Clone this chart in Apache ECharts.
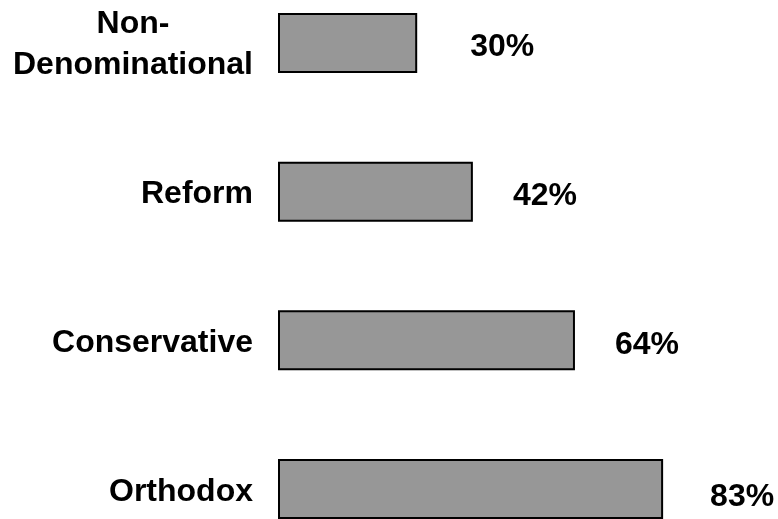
<!DOCTYPE html>
<html>
<head>
<meta charset="utf-8">
<script src="https://cdn.jsdelivr.net/npm/echarts@6/dist/echarts.min.js"></script>
<style>
  html, body { margin: 0; padding: 0; background: #ffffff; }
  #chart { width: 778px; height: 519px; }
</style>
</head>
<body>
<div id="chart"></div>
<script>
// Data
var categories = ['Non-Denominational', 'Reform', 'Conservative', 'Orthodox'];
var values = [30, 42, 64, 83];

// Label nudges (layout only)
var labelShift = [[13, 4], [0, 5], [0, 5], [7, 8]];

var chart = echarts.init(document.getElementById('chart'), null, { renderer: 'canvas' });

var font = '"Liberation Sans", Arial, Helvetica, sans-serif';

var option = {
  backgroundColor: '#ffffff',
  animation: false,
  grid: { left: 278, top: 43, width: 464, height: 446, containLabel: false },
  xAxis: {
    type: 'value', min: 0, max: 100,
    show: false
  },
  yAxis: {
    type: 'category',
    data: categories,
    inverse: true,
    boundaryGap: false,
    axisLine: { show: false },
    axisTick: { show: false },
    splitLine: { show: false },
    axisLabel: {
      margin: 25,
      color: '#000000',
      fontFamily: font,
      fontWeight: 'bold',
      fontSize: 32,
      formatter: function (v) {
        if (v === 'Non-Denominational') {
          return '{c|Non-}\n{c|Denominational}';
        }
        return '{s|' + v + '}';
      },
      rich: {
        c: {
          width: 240, align: 'center', lineHeight: 41,
          fontFamily: font, fontWeight: 'bold', fontSize: 32, color: '#000000',
          padding: [3, 0, 0, 0]
        },
        s: {
          fontFamily: font, fontWeight: 'bold', fontSize: 32, color: '#000000',
          padding: [6, 0, 0, 0]
        }
      }
    }
  },
  series: [{
    type: 'bar',
    barWidth: 60,
    data: values.map(function (v, i) {
      return {
        value: v,
        label: { offset: labelShift[i] }
      };
    }),
    itemStyle: { color: '#979797', borderColor: '#000000', borderWidth: 2 },
    label: {
      show: true,
      position: 'right',
      distance: 40,
      formatter: '{c}%',
      color: '#000000',
      fontFamily: font,
      fontWeight: 'bold',
      fontSize: 32
    }
  }]
};

chart.setOption(option);
</script>
</body>
</html>
